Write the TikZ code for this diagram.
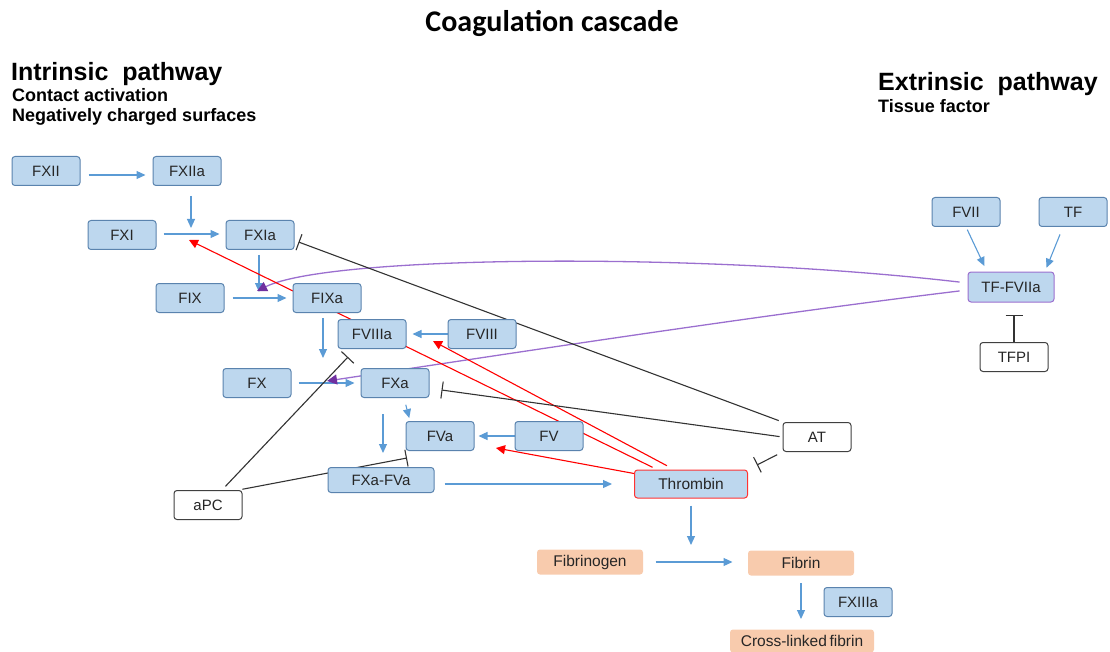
\documentclass[tikz,border=0pt]{standalone}
\usepackage{fontspec}
\setmainfont{Liberation Sans}
\newfontfamily\titlefont{Carlito}
\usetikzlibrary{arrows.meta,backgrounds}

\definecolor{boxfill}{HTML}{BDD7EE}
\definecolor{boxline}{HTML}{5A83AE}
\definecolor{actblue}{HTML}{5B9BD5}
\definecolor{fibfill}{HTML}{F8CBAD}
\definecolor{purp}{HTML}{9B6FCF}
\definecolor{purptip}{HTML}{7030A0}
\definecolor{txt}{HTML}{262626}

\tikzset{
  factor/.style={draw=boxline, fill=boxfill, rounded corners=3pt, line width=1pt,
    minimum width=68pt, minimum height=29pt, inner sep=2pt, text=txt,
    font=\fontsize{15}{17}\selectfont},
  inhibitor/.style={factor, draw=black!75, fill=white},
  product/.style={factor, draw=none, fill=fibfill, minimum width=106pt,
    minimum height=25pt, font=\fontsize{15.5}{17}\selectfont},
  heading/.style={anchor=base west, inner sep=0pt, font=\bfseries},
  act/.style={-{Triangle[length=9pt,width=8pt]}, actblue, line width=1.1pt},
  feedback/.style={-{Triangle[length=9pt,width=9pt]}, red, line width=1.1pt},
  blockline/.style={-{Bar[width=17pt]}, black!80, line width=1.1pt},
  tfline/.style={-{Triangle[length=10pt,width=10pt,color=purptip]}, purp, line width=1.3pt},
}

\begin{document}
\begin{tikzpicture}[x=1pt, y=-1pt]
  \useasboundingbox (0,0) rectangle (1110,652);

  % titles
  \node[inner sep=0pt, anchor=base] (title) at (552,32)
    {\titlefont\bfseries\fontsize{30}{32}\selectfont Coagulation cascade};
  \node[heading, font=\bfseries\fontsize{25}{27}\selectfont] (intr) at (11,81) {Intrinsic\ \ pathway};
  \node[heading, font=\bfseries\fontsize{18}{20}\selectfont] (contact) at (12,102) {Contact activation};
  \node[heading, font=\bfseries\fontsize{18}{20}\selectfont] (negsurf) at (12,122) {Negatively charged surfaces};
  \node[heading, font=\bfseries\fontsize{25}{27}\selectfont] (extr) at (878,91) {Extrinsic\ \ pathway};
  \node[heading, font=\bfseries\fontsize{18}{20}\selectfont] (tissue) at (878,113) {Tissue factor};

  % factors
  \node[factor] (FXII)   at (46,171)  {FXII};
  \node[factor] (FXIIa)  at (187,171) {FXIIa};
  \node[factor] (FXI)    at (122,235) {FXI};
  \node[factor] (FXIa)   at (260,235) {FXIa};
  \node[factor] (FIX)    at (190,298) {FIX};
  \node[factor] (FIXa)   at (327,298) {FIXa};
  \node[factor] (FVIIIa) at (372,334) {FVIIIa};
  \node[factor] (FVIII)  at (482,334) {FVIII};
  \node[factor] (FX)     at (257,383) {FX};
  \node[factor] (FXa)    at (395,383) {FXa};
  \node[factor] (FVa)    at (440,436) {FVa};
  \node[factor] (FV)     at (549,436) {FV};
  \node[factor, minimum width=106pt, minimum height=25pt] (FXaFVa) at (381,480) {FXa-FVa};
  \node[factor, draw=red!80, minimum width=113pt, minimum height=28pt,
        font=\fontsize{15.5}{17}\selectfont] (Thrombin) at (691,484) {Thrombin};
  \node[factor] (FXIIIa) at (858,602) {FXIIIa};
  \node[factor] (FVII)   at (966,212) {FVII};
  \node[factor] (TF)     at (1073,212) {TF};
  \node[factor, draw=purp, minimum width=86pt, minimum height=30pt] (TFFVIIa) at (1011,287) {TF-FVIIa};

  % inhibitors
  \node[inhibitor] (aPC)  at (208,505)  {aPC};
  \node[inhibitor] (AT)   at (817,437)  {AT};
  \node[inhibitor] (TFPI) at (1014,357) {TFPI};

  % fibrin
  \node[product] (Fibrinogen) at (590,562) {Fibrinogen};
  \node[product] (Fibrin)     at (801,563) {Fibrin};
  \node[product, minimum width=144pt, minimum height=23pt] (XFibrin) at (802,641) {Cross-linked\,fibrin};

  % junctions on the activation arrows
  \coordinate (j1) at (191,234);
  \coordinate (j2) at (259,298);
  \coordinate (j3) at (323,383);
  \coordinate (j4) at (383,414);
  \coordinate (j5) at (691,563);

  \begin{scope}[on background layer]
  % activation (blue)
  \draw[act, shorten <=8pt, shorten >=7pt] ([yshift=-4pt]FXII.east) -- ([yshift=-4pt]FXIIa.west);
  \draw[act, shorten <=7pt, shorten >=6pt] (FXI.east |- j1) -- (FXIa.west |- j1);
  \draw[act, shorten <=10pt, shorten >=6pt] (FXIIa.south -| j1) -- (j1);
  \draw[act, shorten <=5pt, shorten >=6pt] (FXIa.south -| j2) -- (j2);
  \draw[act, shorten <=8pt, shorten >=6pt] (FIX.east) -- (FIXa.west);
  \draw[act, shorten <=5pt, shorten >=25pt] (FIXa.south -| j3) -- (j3);
  \draw[act, shorten <=7pt, shorten >=6pt] (FX.east) -- (FXa.west);
  \draw[act, shorten >=6pt] (FVIII.west) -- (FVIIIa.east);
  \draw[act, shorten <=7pt, shorten >=3pt] ([xshift=9pt]FXa.south) -- ([xshift=-30pt]FVa.north);
  \draw[act, shorten >=14pt] (j4) -- (j4 |- FXaFVa.north);
  \draw[act, shorten >=4pt] (FV.west) -- (FVa.east);
  \draw[act, shorten <=10pt, shorten >=22pt] (FXaFVa.east |- Thrombin.west) -- (Thrombin.west);
  \draw[act, shorten <=7pt, shorten >=18pt] (Thrombin.south) -- (j5);
  \draw[act, shorten <=12pt, shorten >=15pt] (Fibrinogen.east) -- (Fibrin.west |- Fibrinogen.east);
  \draw[act, shorten <=7pt, shorten >=10pt] (Fibrin.south) -- (Fibrin.south |- XFibrin.north);
  \draw[act, shorten <=3pt, shorten >=6pt] (FVII.south) -- ([xshift=-24pt]TFFVIIa.north);
  \draw[act, shorten <=8pt, shorten >=4pt] ([xshift=-10pt]TF.south) -- ([xshift=34pt]TFFVIIa.north);

  % extrinsic activation (purple)
  \coordinate (tf1) at (257,291);
  \coordinate (tf2) at (327,381);
  \draw[tfline, shorten <=8pt] ([yshift=4pt]TFFVIIa.west) .. controls (700,252) and (330,255) .. (tf1);
  \draw[tfline, shorten <=8pt] ([yshift=-3pt]TFFVIIa.west) .. controls (760,315) and (500,355) .. (tf2);

  % thrombin feedback (red)
  \coordinate (fb1) at (189,240);
  \coordinate (fb2) at (433,341);
  \coordinate (fb3) at (496,448);
  \draw[feedback, shorten <=5pt] ([xshift=-34pt]Thrombin.north) -- (fb1);
  \draw[feedback, shorten <=8pt] ([xshift=-17pt]Thrombin.north) -- (fb2);
  \draw[feedback] ([yshift=-4pt]Thrombin.north west) -- (fb3);

  % inhibition (black)
  \coordinate (b4) at (348,357);
  \coordinate (b5) at (407,458);
  \draw[blockline, shorten <=4pt] (AT.north west) -- ([xshift=4pt,yshift=-7pt]FXIa.east);
  \draw[blockline, shorten <=3pt] (AT.west) -- ([xshift=12pt,yshift=-7pt]FXa.east);
  \draw[blockline, shorten <=6pt, shorten >=10pt] (AT.south west) -- (Thrombin.north east);
  \draw[blockline, shorten <=5pt] ([xshift=14pt]aPC.north) -- (b4);
  \draw[blockline, shorten <=4pt] ([xshift=-4pt]aPC.north east) -- (b5);
  \draw[blockline, shorten >=12pt] (TFPI.north) -- (TFPI.north |- TFFVIIa.south);
  \end{scope}
\end{tikzpicture}
\end{document}
